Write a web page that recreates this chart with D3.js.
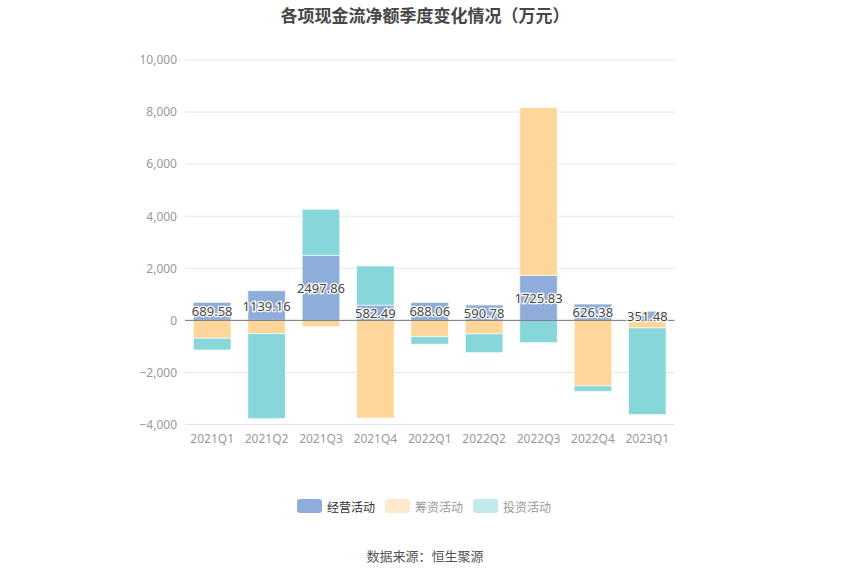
<!DOCTYPE html>
<html><head><meta charset="utf-8">
<script src="https://cdn.jsdelivr.net/npm/d3@7"></script>
<style>body{margin:0;background:#fff;font-family:"Noto Sans CJK SC","Noto Sans",sans-serif;}</style>
</head><body><svg id="c" width="850" height="575"></svg>
<script>
const categories = ["2021Q1","2021Q2","2021Q3","2021Q4","2022Q1","2022Q2","2022Q3","2022Q4","2023Q1"];
const seriesNames = ["经营活动","筹资活动","投资活动"];
const operating = [689.58,1139.16,2497.86,582.49,688.06,590.78,1725.83,626.38,351.48];
const financing = [-687,-510,-240,-3750,-625,-520,6445,-2520,-290];
const investing = [-450,-3265,1770,1505,-290,-720,-855,-205,-3325];
const yTicks = [-4000,-2000,0,2000,4000,6000,8000,10000];
const colors = ["#8eaddb","#ffd699","#87d6d9"];
const legendColors = ["#8eaddb","#fde9cc","#c3eaea"];

const svg = d3.select("#c");
const x = d3.scaleBand().domain(categories).range([185,674.5]).paddingInner(0.31).paddingOuter(0.155);
const y = d3.scaleLinear().domain([-4000,10000]).range([424.5,60]);

// grid
svg.append("g").selectAll("line").data(yTicks.filter(d=>d!==0)).join("line")
  .attr("x1",185).attr("x2",674.5).attr("y1",d=>y(d)).attr("y2",d=>y(d))
  .attr("stroke","#e0e6f1").attr("stroke-width",1);

// y axis labels
const yAxis = d3.axisLeft(y).tickValues(yTicks).tickSize(0).tickPadding(8).tickFormat(d3.format(","));
const ya = svg.append("g").attr("transform","translate(185,0)").call(yAxis);
ya.select(".domain").remove();
ya.selectAll("text").attr("fill","#999").style("font-size","12px").style("font-family","'Noto Sans','Noto Sans CJK SC',sans-serif");

// stacked by sign
const data = categories.map((c,i)=>({c, v:[operating[i],financing[i],investing[i]]}));
const rects = [];
data.forEach(d=>{
  let pos=0, neg=0;
  d.v.forEach((v,k)=>{
    let y0,y1;
    if(v>=0){y0=pos;y1=pos+v;pos=y1;} else {y0=neg;y1=neg+v;neg=y1;}
    rects.push({c:d.c,k,y0,y1,v});
  });
});
svg.append("g").selectAll("rect").data(rects).join("rect")
  .attr("x",d=>x(d.c)).attr("width",x.bandwidth())
  .attr("y",d=>Math.min(y(d.y0),y(d.y1))).attr("height",d=>Math.abs(y(d.y0)-y(d.y1)))
  .attr("fill",d=>colors[d.k]).attr("stroke","rgba(255,255,255,0.6)").attr("stroke-width",1);

// zero axis
svg.append("line").attr("x1",185).attr("x2",674.5).attr("y1",y(0)).attr("y2",y(0)).attr("stroke","#6e7079").attr("stroke-width",1);

// x axis labels
const xAxis = d3.axisBottom(x).tickSize(0).tickPadding(10);
const xa = svg.append("g").attr("transform",`translate(0,${y(-4000)})`).call(xAxis);
xa.select(".domain").remove();
xa.selectAll("text").attr("fill","#999").style("font-size","12px").style("font-family","'Noto Sans','Noto Sans CJK SC',sans-serif");

// labels
svg.append("g").selectAll("text").data(rects.filter(r=>r.k===0)).join("text")
  .attr("x",d=>x(d.c)+x.bandwidth()/2).attr("y",d=>(y(d.y0)+y(d.y1))/2)
  .attr("text-anchor","middle").attr("dominant-baseline","central")
  .attr("fill","#444").attr("stroke","#fff").attr("stroke-width",2.5).attr("paint-order","stroke")
  .style("font-size","13px").style("font-family","'Noto Sans','Noto Sans CJK SC',sans-serif")
  .text(d=>d3.format(".2f")(d.v));

// title
svg.append("text").attr("x",425).attr("y",14).attr("text-anchor","middle").attr("dominant-baseline","central")
  .attr("fill","#464646").style("font-size","17px").style("font-weight","bold").text("各项现金流净额季度变化情况（万元）");

// legend
const lx = [297,385,473];
const lg = svg.append("g").selectAll("g").data(seriesNames).join("g").attr("transform",(d,i)=>`translate(${lx[i]},499)`);
lg.append("rect").attr("width",25).attr("height",14).attr("rx",3).attr("fill",(d,i)=>legendColors[i]);
lg.append("text").attr("x",30).attr("y",7).attr("dominant-baseline","central").attr("fill",(d,i)=>i===0?"#333":"#999")
  .style("font-size","12px").text(d=>d);

// source
svg.append("text").attr("x",425).attr("y",555).attr("text-anchor","middle").attr("dominant-baseline","central")
  .attr("fill","#555").style("font-size","13px").text("数据来源：恒生聚源");
</script></body></html>
